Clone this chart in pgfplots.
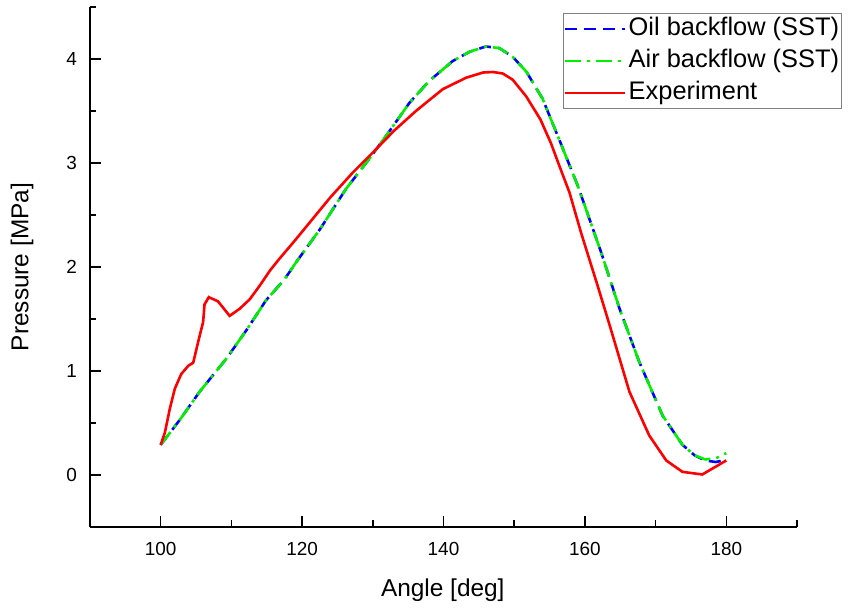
\documentclass[border=0pt]{standalone}
\usepackage{fontspec}
\setmainfont{Liberation Sans}
\usepackage{pgfplots}
\pgfplotsset{compat=1.18}
\definecolor{cblue}{RGB}{0,0,255}
\definecolor{cgreen}{RGB}{0,240,0}
\definecolor{cred}{RGB}{255,0,0}
\begin{document}
\begin{tikzpicture}
\begin{axis}[
  scale only axis, width=707bp, height=520bp,
  xmin=90, xmax=190, ymin=-0.5, ymax=4.5,
  axis lines=left, axis line style={-, line width=1.8bp, black},
  xtick={100,120,...,180}, minor xtick={90,110,...,190},
  ytick={0,1,2,3,4}, minor ytick={-0.5,0.5,1.5,2.5,3.5,4.5},
  tick align=inside, major tick length=11bp, minor tick length=6.5bp,
  every tick/.style={black, line width=1.6bp},
  /pgf/number format/assume math mode=true,
  tick label style={font=\fontsize{19}{19}\selectfont, inner sep=0pt},
  yticklabel style={xshift=-13bp},
  xticklabel style={yshift=-15bp},
  xlabel={Angle [deg]}, ylabel={Pressure [MPa]},
  label style={font=\fontsize{24.5}{24.5}\selectfont},
  xlabel style={at={(axis description cs:0.499,-0.121)}, anchor=center},
  ylabel style={at={(axis description cs:-0.096,0.5)}, anchor=center},
  legend cell align=left,
  legend style={at={(1.0636,0.988)}, anchor=north east, draw=gray, line width=0.8bp,
    font=\fontsize{25.5}{25.5}\selectfont, inner sep=0bp, row sep=1.5bp,
    nodes={inner sep=2.5bp, text height=19.5bp, text depth=6bp}},
  legend image code/.code={\draw[#1] (-2bp,0bp) -- (58bp,0bp);},
]
\coordinate (ll) at (rel axis cs:0,0);
\coordinate (ur) at (rel axis cs:1,1);
\addplot[cblue, line width=2.6bp, dash pattern=on 12bp off 7bp] coordinates {
(100.0,0.29) (102.7,0.53) (105.5,0.80) (109.3,1.12) (112.1,1.39) (114.9,1.68)
(117.5,1.88) (119.2,2.05) (122.5,2.36) (126.2,2.75) (129.5,3.04) (132.4,3.31) (135.2,3.58)
(138.0,3.79) (141.3,3.98) (143.7,4.07) (146.0,4.12) (147.9,4.105) (149.8,4.02)
(151.7,3.88) (154.0,3.62) (156.4,3.22) (159.0,2.78) (162.3,2.14) (164.9,1.60)
(167.7,1.085) (171.0,0.57) (173.8,0.29) (175.5,0.19) (177.0,0.14) (178.5,0.125) (180.0,0.145)
};
\addlegendentry{Oil backflow (SST)}
\addplot[cgreen, line width=2.6bp, dash pattern=on 16bp off 6bp on 3bp off 6bp] coordinates {
(100.0,0.29) (102.7,0.53) (105.5,0.80) (109.3,1.12) (112.1,1.39) (114.9,1.68)
(117.5,1.88) (119.2,2.05) (122.5,2.36) (126.2,2.75) (129.5,3.04) (132.4,3.31) (135.2,3.58)
(138.0,3.79) (141.3,3.98) (143.7,4.07) (146.0,4.12) (147.9,4.105) (149.8,4.02)
(151.7,3.88) (154.0,3.62) (156.4,3.22) (159.0,2.78) (162.3,2.14) (164.9,1.60)
(167.7,1.085) (171.0,0.57) (173.8,0.29) (175.5,0.19) (177.0,0.15) (178.5,0.16) (180.0,0.21)
};
\addlegendentry{Air backflow (SST)}
\addplot[cred, line width=2.6bp] coordinates {
(100.0,0.29) (100.6,0.41) (101.3,0.64) (102.0,0.83) (102.9,0.97) (103.9,1.05)
(104.6,1.08) (105.3,1.28) (106.0,1.47) (106.2,1.64) (106.8,1.71) (108.1,1.67)
(109.75,1.53) (111.2,1.60) (112.6,1.69) (114.0,1.82) (115.5,1.97) (116.8,2.08)
(118.8,2.24) (121.1,2.43) (124.0,2.67) (127.2,2.91) (130.0,3.10) (133.0,3.31) (136.1,3.50)
(139.9,3.71) (143.2,3.82) (145.6,3.87) (147.0,3.875) (148.4,3.86) (149.8,3.80)
(151.7,3.64) (153.7,3.42) (155.2,3.19) (156.4,2.97) (157.8,2.72) (159.5,2.32)
(161.8,1.82) (163.5,1.44) (166.3,0.80) (169.1,0.38) (171.5,0.14) (173.8,0.03)
(176.6,0.005) (178.5,0.08) (180.0,0.14)
};
\addlegendentry{Experiment}
\end{axis}
\pgfresetboundingbox
\path ([shift={(-90bp,-82bp)}]ll) rectangle ([shift={(54bp,7bp)}]ur);
\end{tikzpicture}
\end{document}
